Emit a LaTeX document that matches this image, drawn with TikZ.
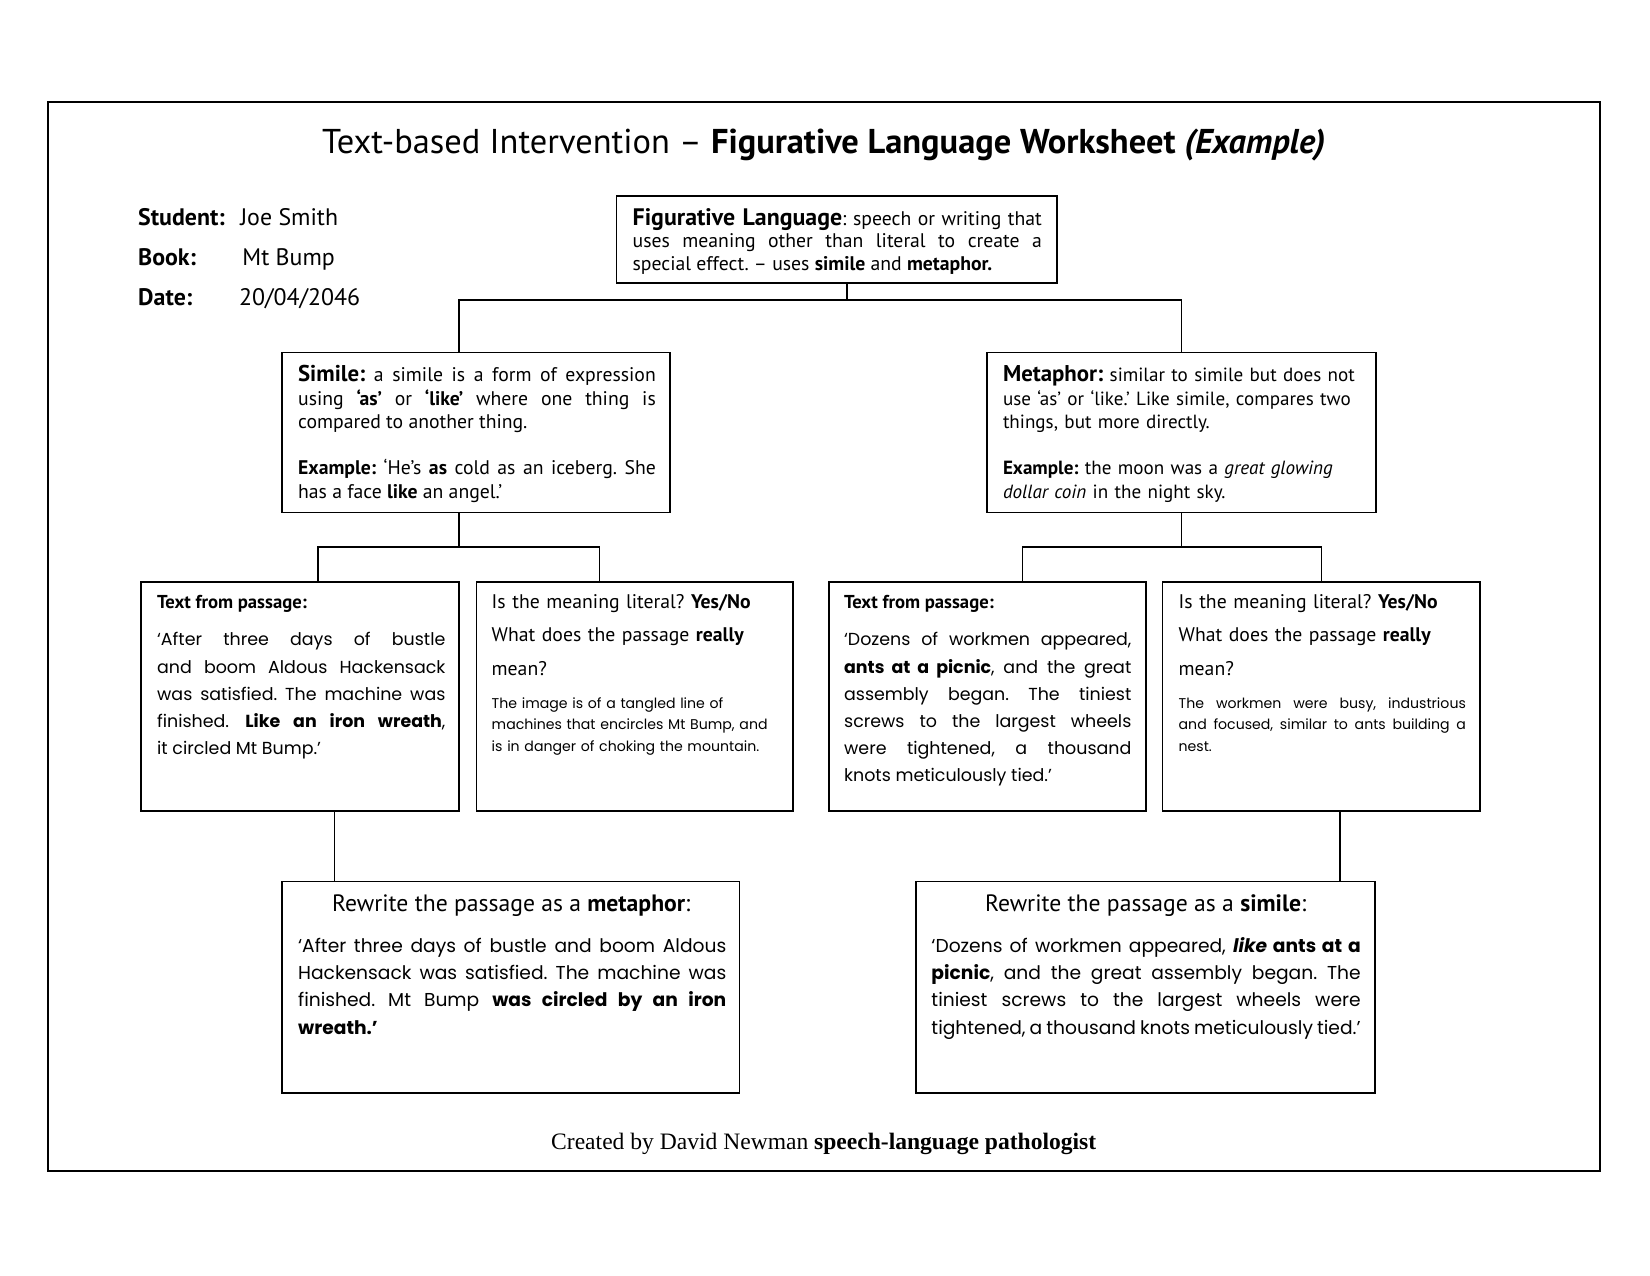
\documentclass[tikz,border=0pt]{standalone}
\usepackage{fontspec}
\setmainfont{PT Sans}
\newfontfamily\comicf{Poppins}
\newfontfamily\timesf{Liberation Serif}
\usetikzlibrary{fit}
\newlength{\vpx}
\setlength{\vpx}{0.17814mm}
\newcommand{\headf}{\fontsize{11.5}{12}\selectfont}
\frenchspacing
\begin{document}
\begin{tikzpicture}[x=0.17814mm, y=-0.17814mm,
  box/.style={draw, line width=0.8pt, inner sep=0pt},
  txt/.style={anchor=base west, inner sep=0pt, align=left},
  jtxt/.style={anchor=base west, inner sep=0pt, align=justify},
  conn/.style={line width=0.8pt},
  info/.style={anchor=base west, inner sep=0pt, font={\fontsize{11.5}{13}\selectfont}},
  bodyf/.style={font={\fontsize{9.5}{10.9}\selectfont}},
  comicA/.style={font={\comicf\fontsize{8.4}{13.05}\selectfont}},
  comicS/.style={font={\comicf\fontsize{6.8}{10.4}\selectfont}},
  comicR/.style={font={\comicf\fontsize{9}{13.2}\selectfont}},
  qhead/.style={font={\fontsize{9.5}{16.2}\selectfont}},
  rhead/.style={anchor=base, inner sep=0pt, font={\fontsize{11.4}{13}\selectfont}},
]
\useasboundingbox (0,0) rectangle (1568.4,1212);

% outer frame
\node[box, line width=1pt, fit={(46,97)(1521,1113)}] (frame) {};

% title
\node[anchor=base, inner sep=0pt, font={\fontsize{16.6}{19}\selectfont}] (title) at (783,146)
  {Text-based Intervention – \textbf{Figurative Language Worksheet \textit{(Example)}}};

% student info
\node[info] (stL) at (131,214) {\textbf{Student:}};
\node[info] (stV) at (228,214) {Joe Smith};
\node[info] (bkL) at (131,252) {\textbf{Book:}};
\node[info] (bkV) at (230,252) {Mt Bump};
\node[info] (dtL) at (131,290) {\textbf{Date:}};
\node[info] (dtV) at (227,290) {20/04/2046};

% boxes
\node[box, fit={(586,186)(1005,269)}] (fig) {};
\node[box, fit={(268,335)(637,487)}] (sim) {};
\node[box, fit={(938,335)(1308,487)}] (met) {};
\node[box, fit={(134,553)(436,771)}] (pa) {};
\node[box, fit={(453,553)(754,771)}] (pb) {};
\node[box, fit={(788,553)(1089,771)}] (pc) {};
\node[box, fit={(1105,553)(1407,771)}] (pd) {};
\node[box, fit={(268,838)(703,1039)}] (rm) {};
\node[box, fit={(871,838)(1307,1039)}] (rs) {};

% figurative language text
\node[jtxt, bodyf, text width=389\vpx] (figT) at (601,214)
  {{\headf\textbf{Figurative Language}}: speech or writing that\linebreak
   uses meaning other than literal to create a\linebreak
   special effect. – uses \textbf{simile} and \textbf{metaphor.}};

% simile text
\node[jtxt, font={\fontsize{9.5}{11.2}\selectfont}, text width=340\vpx] (simT) at (283,363)
  {{\fontsize{11}{12}\selectfont\textbf{Simile:}} a simile is a form of expression\linebreak
   using \textbf{‘as’} or \textbf{‘like’} where one thing is\linebreak
   compared to another thing.\\[11.2pt]
   \textbf{Example:} ‘He’s \textbf{as} cold as an iceberg. She\linebreak
   has a face \textbf{like} an angel.’};

% metaphor text
\node[txt, font={\fontsize{9.2}{11.2}\selectfont}, text width=360\vpx] (metT) at (953,363)
  {{\fontsize{11}{12}\selectfont\textbf{Metaphor:}} similar to simile but does not\\
   use ‘as’ or ‘like.’ Like simile, compares two\\
   things, but more directly.\\[11.2pt]
   \textbf{Example:} the moon was a \textit{great glowing}\\
   \textit{dollar coin} in the night sky.};

% passage box A
\node[txt, font={\fontsize{9}{11}\selectfont}] (paH) at (149,578) {\textbf{Text from passage:}};
\node[jtxt, comicA, text width=274\vpx] (paT) at (149,614)
  {‘After three days of bustle\linebreak
   and boom Aldous Hackensack\linebreak
   was satisfied. The machine was\linebreak
   finished. \textbf{Like an iron wreath},\linebreak
   it circled Mt Bump.’};

% meaning box B
\node[txt, qhead, text width=290\vpx] (pbH) at (467,578)
  {Is the meaning literal? \textbf{Yes/No}\\
   What does the passage \textbf{really}\\ mean?};
\node[txt, comicS, text width=290\vpx] (pbT) at (467,673)
  {The image is of a tangled line of\\
   machines that encircles Mt Bump, and\\
   is in danger of choking the mountain.};

% passage box C
\node[txt, font={\fontsize{9}{11}\selectfont}] (pcH) at (802,578) {\textbf{Text from passage:}};
\node[jtxt, comicA, text width=273\vpx] (pcT) at (802,614)
  {‘Dozens of workmen appeared,\linebreak
   \textbf{ants at a picnic}, and the great\linebreak
   assembly began. The tiniest\linebreak
   screws to the largest wheels\linebreak
   were tightened, a thousand\linebreak
   knots meticulously tied.’};

% meaning box D
\node[txt, qhead, text width=290\vpx] (pdH) at (1120,578)
  {Is the meaning literal? \textbf{Yes/No}\\
   What does the passage \textbf{really}\\ mean?};
\node[jtxt, comicS, text width=273\vpx] (pdT) at (1120,673)
  {The workmen were busy, industrious\linebreak
   and focused, similar to ants building a\linebreak
   nest.};

% rewrite metaphor
\node[rhead] (rmH) at (486,866)
  {Rewrite the passage as a \textbf{metaphor}:};
\node[jtxt, comicR, text width=407\vpx] (rmT) at (283,905)
  {‘After three days of bustle and boom Aldous\linebreak
   Hackensack was satisfied. The machine was\linebreak
   finished. Mt Bump \textbf{was circled by an iron}\linebreak
   \textbf{wreath.’}};

% rewrite simile
\node[rhead] (rsH) at (1089,866)
  {Rewrite the passage as a \textbf{simile}:};
\node[jtxt, comicR, text width=408\vpx] (rsT) at (885,905)
  {‘Dozens of workmen appeared, \textbf{\textit{like} ants at a}\linebreak
   \textbf{picnic}, and the great assembly began. The\linebreak
   tiniest screws to the largest wheels were\linebreak
   tightened, a thousand knots meticulously tied.’};

% footer
\node[anchor=base, inner sep=0pt, font={\timesf\fontsize{11.35}{13}\selectfont}] (foot) at (783,1093)
  {Created by David Newman \textbf{speech-language pathologist}};

% connector junctions
\coordinate (j1) at (805,285);
\coordinate (jL) at (436,285);
\coordinate (jR) at (1123,285);
\coordinate (k1) at (436,520);
\coordinate (kL) at (302,520);
\coordinate (kR) at (570,520);
\coordinate (m1) at (1123,520);
\coordinate (mL) at (972,520);
\coordinate (mR) at (1256,520);
\coordinate (q1) at (318,800);
\coordinate (q2) at (1274,800);

\draw[conn] (j1 |- fig.south) -- (j1);
\draw[conn] (jL |- sim.north) -- (jL) -- (jR) -- (jR |- met.north);
\draw[conn] (k1 |- sim.south) -- (k1);
\draw[conn] (kL |- pa.north) -- (kL) -- (kR) -- (kR |- pb.north);
\draw[conn] (m1 |- met.south) -- (m1);
\draw[conn] (mL |- pc.north) -- (mL) -- (mR) -- (mR |- pd.north);
\draw[conn] (q1 |- pa.south) -- (q1 |- rm.north);
\draw[conn] (q2 |- pd.south) -- (q2 |- rs.north);
\end{tikzpicture}
\end{document}
